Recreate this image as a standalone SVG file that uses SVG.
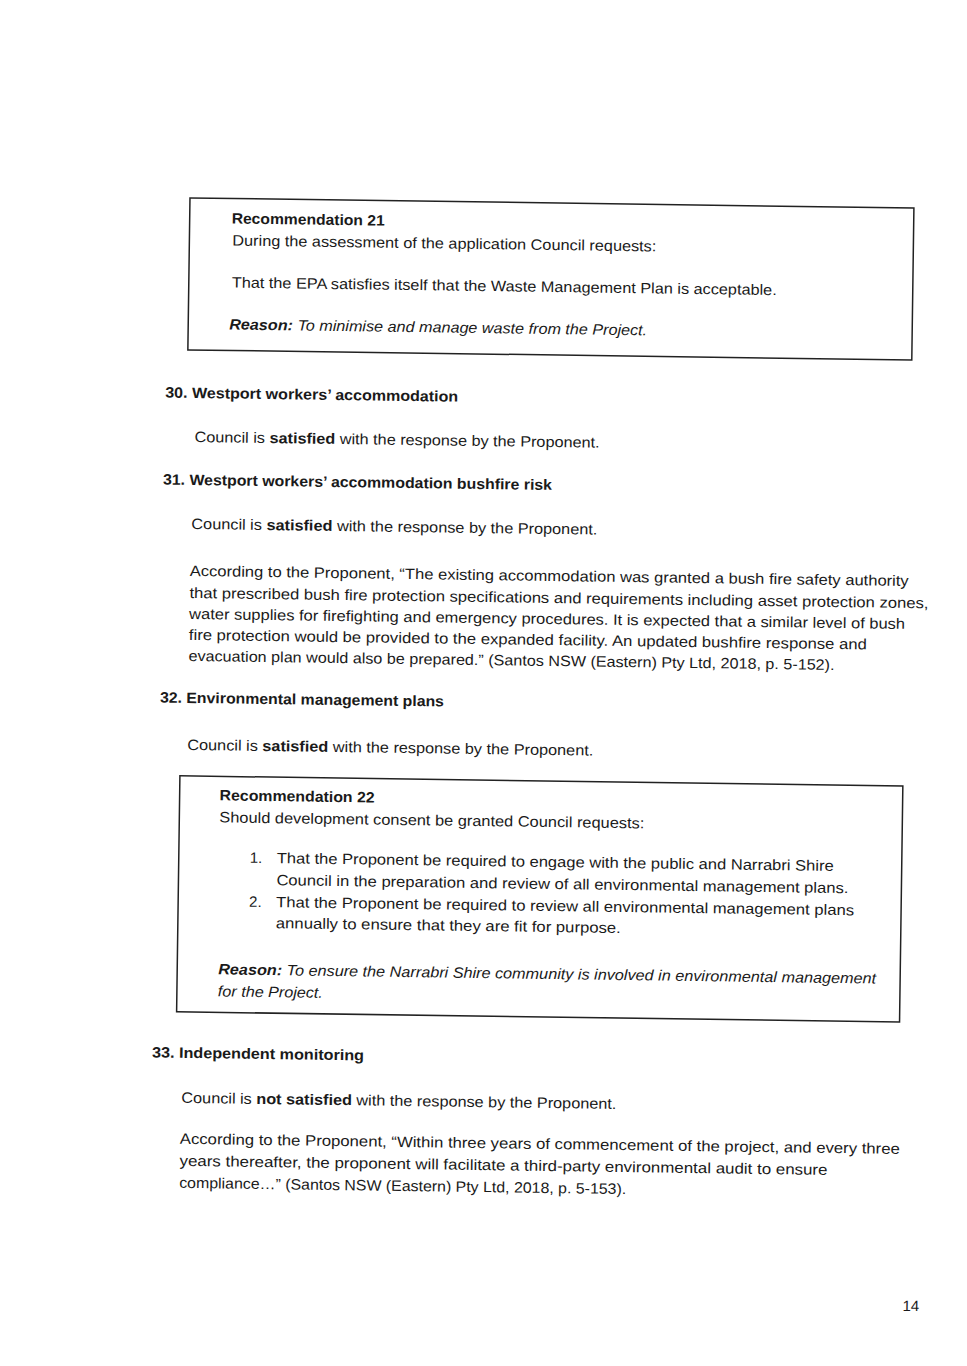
<svg xmlns="http://www.w3.org/2000/svg" width="967" height="1366" viewBox="0 0 967 1366">
<style>
text{font-family:"Liberation Sans",Arial,sans-serif;font-size:15px;fill:#1a1a1a}
.b{font-weight:bold}
.i{font-style:italic}
.box{fill:none;stroke:#222;stroke-width:1.5}
</style>
<rect width="967" height="1366" fill="#fff"/>
<g transform="rotate(0.8 480 700)">
<g id="rec21">
<rect class="box" x="183" y="202" width="724" height="152"/>
<text x="225" y="227" class="b" textLength="153" lengthAdjust="spacingAndGlyphs">Recommendation 21</text>
<text x="226" y="249" textLength="424" lengthAdjust="spacingAndGlyphs">During the assessment of the application Council requests:</text>
<text x="226" y="291" textLength="545" lengthAdjust="spacingAndGlyphs">That the EPA satisfies itself that the Waste Management Plan is acceptable.</text>
<text x="224" y="333" class="i" textLength="418" lengthAdjust="spacingAndGlyphs"><tspan class="b">Reason:</tspan> To minimise and manage waste from the Project.</text>
</g>
<g id="s30">
<text x="161" y="402" class="b" textLength="293" lengthAdjust="spacingAndGlyphs">30. Westport workers’ accommodation</text>
<text x="191" y="446" textLength="405" lengthAdjust="spacingAndGlyphs">Council is <tspan class="b">satisfied</tspan> with the response by the Proponent.</text>
</g>
<g id="s31">
<text x="160" y="489" class="b" textLength="389" lengthAdjust="spacingAndGlyphs">31. Westport workers’ accommodation bushfire risk</text>
<text x="189" y="533" textLength="406" lengthAdjust="spacingAndGlyphs">Council is <tspan class="b">satisfied</tspan> with the response by the Proponent.</text>
<text x="188" y="580" textLength="719" lengthAdjust="spacingAndGlyphs">According to the Proponent, “The existing accommodation was granted a bush fire safety authority</text>
<text x="188" y="602" textLength="739" lengthAdjust="spacingAndGlyphs">that prescribed bush fire protection specifications and requirements including asset protection zones,</text>
<text x="188" y="623" textLength="716" lengthAdjust="spacingAndGlyphs">water supplies for firefighting and emergency procedures. It is expected that a similar level of bush</text>
<text x="188" y="644" textLength="678" lengthAdjust="spacingAndGlyphs">fire protection would be provided to the expanded facility. An updated bushfire response and</text>
<text x="188" y="665" textLength="646" lengthAdjust="spacingAndGlyphs">evacuation plan would also be prepared.” (Santos NSW (Eastern) Pty Ltd, 2018, p. 5-152).</text>
</g>
<g id="s32">
<text x="160" y="707" class="b" textLength="284" lengthAdjust="spacingAndGlyphs">32. Environmental management plans</text>
<text x="188" y="754" textLength="406" lengthAdjust="spacingAndGlyphs">Council is <tspan class="b">satisfied</tspan> with the response by the Proponent.</text>
</g>
<g id="rec22">
<rect class="box" x="181" y="780" width="723" height="236"/>
<text x="221" y="804" class="b" textLength="155" lengthAdjust="spacingAndGlyphs">Recommendation 22</text>
<text x="221" y="826" textLength="425" lengthAdjust="spacingAndGlyphs">Should development consent be granted Council requests:</text>
<text x="252" y="866">1.</text>
<text x="279" y="866" textLength="557" lengthAdjust="spacingAndGlyphs">That the Proponent be required to engage with the public and Narrabri Shire</text>
<text x="279" y="888" textLength="572" lengthAdjust="spacingAndGlyphs">Council in the preparation and review of all environmental management plans.</text>
<text x="252" y="910">2.</text>
<text x="279" y="910" textLength="578" lengthAdjust="spacingAndGlyphs">That the Proponent be required to review all environmental management plans</text>
<text x="279" y="931" textLength="345" lengthAdjust="spacingAndGlyphs">annually to ensure that they are fit for purpose.</text>
<text x="222" y="978" class="i" textLength="658" lengthAdjust="spacingAndGlyphs"><tspan class="b">Reason:</tspan> To ensure the Narrabri Shire community is involved in environmental management</text>
<text x="222" y="1000" class="i" textLength="105" lengthAdjust="spacingAndGlyphs">for the Project.</text>
</g>
<g id="s33">
<text x="157" y="1062" class="b" textLength="212" lengthAdjust="spacingAndGlyphs">33. Independent monitoring</text>
<text x="187" y="1107" textLength="435" lengthAdjust="spacingAndGlyphs">Council is <tspan class="b">not satisfied</tspan> with the response by the Proponent.</text>
<text x="186" y="1148" textLength="720" lengthAdjust="spacingAndGlyphs">According to the Proponent, “Within three years of commencement of the project, and every three</text>
<text x="186" y="1170" textLength="648" lengthAdjust="spacingAndGlyphs">years thereafter, the proponent will facilitate a third-party environmental audit to ensure</text>
<text x="186" y="1192" textLength="447" lengthAdjust="spacingAndGlyphs">compliance…” (Santos NSW (Eastern) Pty Ltd, 2018, p. 5-153).</text>
</g>
<text id="page" x="911" y="1305" font-size="14">14</text>
</g>
</svg>
